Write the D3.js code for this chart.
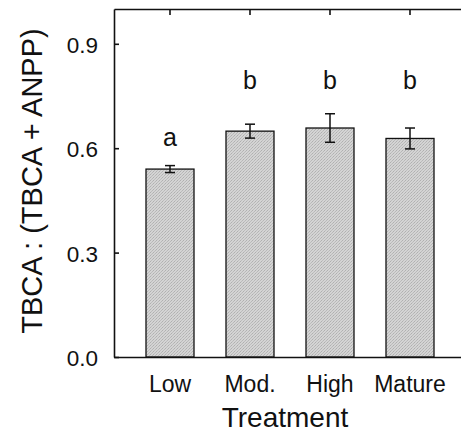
<!DOCTYPE html>
<html>
<head>
<meta charset="utf-8">
<script src="https://cdn.jsdelivr.net/npm/d3@7"></script>
<style>
  body { margin: 0; background: #fff; }
  svg { display: block; font-family: "Liberation Sans", Arial, Helvetica, sans-serif; }
</style>
</head>
<body>
<div id="chart"></div>
<script>
// Bar chart of TBCA share by treatment, with error bars and group letters

// Data
const treatments = ["Low", "Mod.", "High", "Mature"];
const means = [0.54, 0.649, 0.658, 0.628];
const errors = [0.01, 0.02, 0.041, 0.03];
const groupLetters = ["a", "b", "b", "b"];
const letterLevels = [0.605, 0.77, 0.77, 0.77];
const yTicks = [0.0, 0.3, 0.6, 0.9];

function createVisualization() {
    const svgWidth = 461;
    const svgHeight = 433;
    const margin = { top: 9, right: -5, bottom: 76, left: 114 };
    const width = svgWidth - margin.left - margin.right;
    const height = svgHeight - margin.top - margin.bottom;

    const root = d3.select("#chart")
        .append("svg")
        .attr("width", svgWidth)
        .attr("height", svgHeight);

    // Stippled grey fill like the printed figure
    const pat = root.append("defs").append("pattern")
        .attr("id", "stipple")
        .attr("width", 3).attr("height", 3)
        .attr("patternUnits", "userSpaceOnUse");
    pat.append("rect").attr("width", 3).attr("height", 3).attr("fill", "#d4d4d4");
    pat.append("rect").attr("width", 1).attr("height", 1).attr("fill", "#b0b0b0");
    pat.append("rect").attr("x", 2).attr("y", 1).attr("width", 1).attr("height", 1).attr("fill", "#b8b8b8");
    pat.append("rect").attr("x", 1).attr("y", 2).attr("width", 1).attr("height", 1).attr("fill", "#bdbdbd");

    const svg = root.append("g")
        .attr("transform", `translate(${margin.left},${margin.top})`);

    // Scales
    const xScale = d3.scaleBand()
        .domain(treatments)
        .range([0, width])
        .padding(0.4);

    const yScale = d3.scaleLinear()
        .domain([0, 1.0])
        .range([height, 0]);

    const rows = treatments.map((t, i) => ({
        name: t, mean: means[i], err: errors[i],
        letter: groupLetters[i], level: letterLevels[i]
    }));

    // Bars
    svg.selectAll(".bar")
        .data(rows)
        .enter().append("rect")
        .attr("class", "bar")
        .attr("x", d => xScale(d.name))
        .attr("y", d => yScale(d.mean))
        .attr("width", xScale.bandwidth())
        .attr("height", d => height - yScale(d.mean))
        .attr("fill", "url(#stipple)")
        .attr("stroke", "#111")
        .attr("stroke-width", 1.3);

    // Error bars
    const cx = d => xScale(d.name) + xScale.bandwidth() / 2;
    const err = svg.selectAll(".err")
        .data(rows)
        .enter().append("g")
        .attr("class", "err")
        .attr("stroke", "#111")
        .attr("stroke-width", 1.5);
    err.append("line")
        .attr("x1", cx).attr("x2", cx)
        .attr("y1", d => yScale(d.mean + d.err))
        .attr("y2", d => yScale(d.mean - d.err));
    err.append("line")
        .attr("x1", d => cx(d) - 5).attr("x2", d => cx(d) + 5)
        .attr("y1", d => yScale(d.mean + d.err))
        .attr("y2", d => yScale(d.mean + d.err));
    err.append("line")
        .attr("x1", d => cx(d) - 5).attr("x2", d => cx(d) + 5)
        .attr("y1", d => yScale(d.mean - d.err))
        .attr("y2", d => yScale(d.mean - d.err));

    // Group letters
    svg.selectAll(".letter")
        .data(rows)
        .enter().append("text")
        .attr("class", "letter")
        .attr("x", cx)
        .attr("y", d => yScale(d.level))
        .attr("text-anchor", "middle")
        .style("font-size", "25px")
        .attr("fill", "#111")
        .text(d => d.letter);

    // Axes: left with labels, right/top with inward ticks, bottom with labels only
    const yAxis = d3.axisLeft(yScale)
        .tickValues(yTicks)
        .tickFormat(d3.format(".1f"))
        .tickSizeInner(-5)
        .tickSizeOuter(0)
        .tickPadding(16);

    const gy = svg.append("g").call(yAxis);
    gy.selectAll("text").style("font-size", "22.5px").attr("fill", "#111").attr("dy", "0.38em");

    const gyr = svg.append("g")
        .attr("transform", `translate(${width},0)`)
        .call(d3.axisRight(yScale).tickValues(yTicks).tickSizeInner(-5).tickSizeOuter(0).tickFormat(""));

    const gxt = svg.append("g")
        .call(d3.axisTop(xScale).tickSizeInner(-6).tickSizeOuter(0).tickFormat(""));

    const gx = svg.append("g")
        .attr("transform", `translate(0,${height})`)
        .call(d3.axisBottom(xScale).tickSize(0).tickPadding(19));
    gx.selectAll("text").style("font-size", "23px").attr("fill", "#111");

    [gy, gyr, gxt, gx].forEach(g => {
        g.attr("font-family", null);
        g.selectAll("path, line").attr("stroke", "#111").attr("stroke-width", 1.6);
    });

    // Axis titles
    svg.append("text")
        .attr("x", width / 2 - 5)
        .attr("y", height + 70)
        .attr("text-anchor", "middle")
        .style("font-size", "28px")
        .attr("fill", "#111")
        .text("Treatment");

    svg.append("text")
        .attr("transform", `translate(${42 - margin.left},${height / 2 - 2}) rotate(-90)`)
        .attr("text-anchor", "middle")
        .style("font-size", "29px")
        .attr("fill", "#111")
        .text("TBCA : (TBCA + ANPP)");
}

createVisualization();
</script>
</body>
</html>
